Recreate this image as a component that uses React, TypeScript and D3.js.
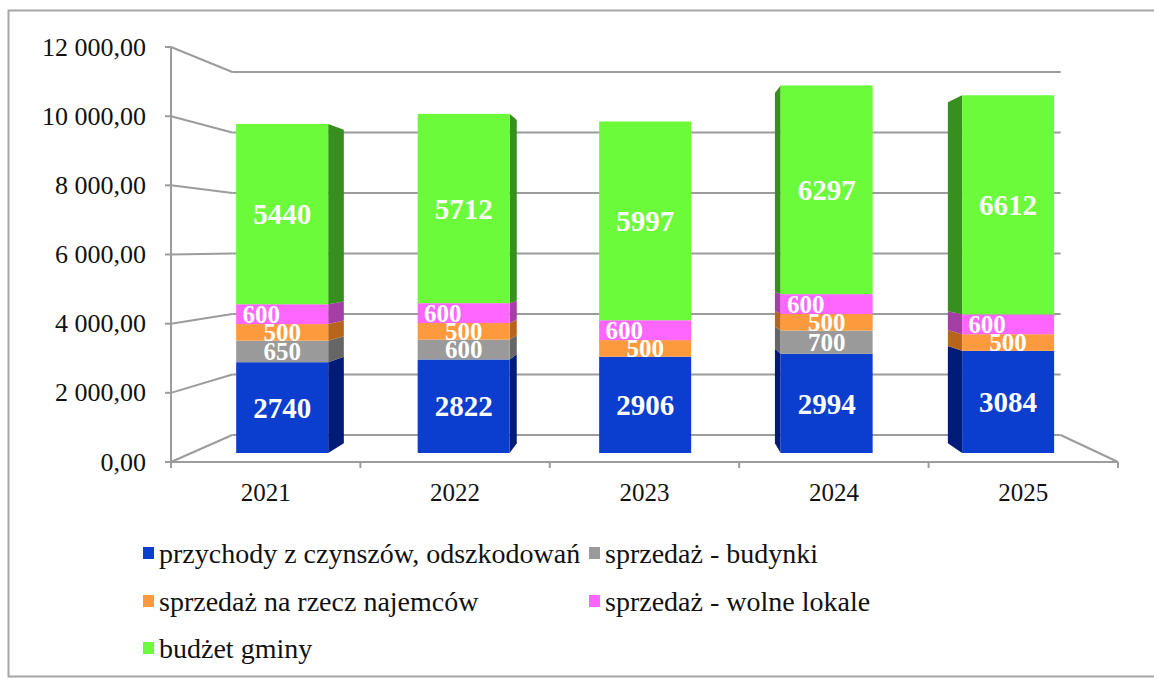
import React from "react";
import * as d3 from "d3";

// values
const years = ["2021", "2022", "2023", "2024", "2025"];
const przychody = [2740, 2822, 2906, 2994, 3084];
const budynki = [650, 600, 0, 700, 0];
const najemcy = [500, 500, 500, 500, 500];
const wolneLokale = [600, 600, 600, 600, 600];
const budzet = [5440, 5712, 5997, 6297, 6612];
const yTicks = [0, 2000, 4000, 6000, 8000, 10000, 12000];

const seriesNames = [
  "przychody z czynszów, odszkodowań",
  "sprzedaż - budynki",
  "sprzedaż na rzecz najemców",
  "sprzedaż - wolne lokale",
  "budżet gminy",
];
const seriesValues = [przychody, budynki, najemcy, wolneLokale, budzet];
const frontColors = ["#0b3ecf", "#9a9a9a", "#fd9a3e", "#ff66ff", "#6cfb3a"];
const sideColors = ["#001c78", "#666666", "#b8651c", "#a53fa5", "#37901e"];

const W = 1154;
const H = 679;
const FONT = "Liberation Serif, DejaVu Serif, Times New Roman, serif";

// simple perspective: front plane -> deeper planes shrink towards a vanishing point
const VPX = 660;
const VPY = 246.5;
const S_BACK = 0.8747; // back wall
const S_BAR_F = 0.9582; // bar front face
const S_BAR_B = 0.913; // bar back face

function proj(x: number, y: number, s: number): [number, number] {
  return [VPX + (x - VPX) * s, VPY + (y - VPY) * s];
}

const x = d3
  .scaleBand()
  .domain(years)
  .range([171, 1118])
  .paddingInner(0.493)
  .paddingOuter(0.2465);
const y = d3.scaleLinear().domain([0, 12000]).range([462, 47]);

const locale = d3.formatLocale({
  decimal: ",",
  thousands: "\u00a0",
  grouping: [3],
  currency: ["", ""],
});
const fmt = locale.format(",.2f");

export default function App() {
  const x0 = x.range()[0];
  const x1 = x.range()[1];
  const step = x.step();

  // stacked data
  const rows = years.map((yr, i) => {
    const r: any = { year: yr };
    seriesNames.forEach((n, k) => (r[n] = seriesValues[k][i]));
    return r;
  });
  const stack = d3.stack().keys(seriesNames)(rows);

  const grid = yTicks.map((v) => {
    const yf = y(v);
    const [bx0, by] = proj(x0, yf, S_BACK);
    const [bx1] = proj(x1, yf, S_BACK);
    return (
      <g key={"g" + v}>
        <line x1={165} y1={yf} x2={x0} y2={yf} />
        <line x1={x0} y1={yf} x2={bx0} y2={by} />
        <line x1={bx0} y1={by} x2={bx1} y2={by} />
      </g>
    );
  });

  const [fbx1, fby] = proj(x1, y(0), S_BACK);

  const bars: any[] = [];
  const labels: any[] = [];
  stack.forEach((layer, k) => {
    layer.forEach((d, i) => {
      const v = d[1] - d[0];
      if (v <= 0) return;
      const left = x(years[i]) as number;
      const right = left + x.bandwidth();
      const yt = y(d[1]);
      const yb = y(d[0]);
      const [fl, ft] = proj(left, yt, S_BAR_F);
      const [fr, fb] = proj(right, yb, S_BAR_F);
      let side = null;
      if (fr < VPX) {
        side = [
          proj(right, yt, S_BAR_F),
          proj(right, yt, S_BAR_B),
          proj(right, yb, S_BAR_B),
          proj(right, yb, S_BAR_F),
        ];
      } else if (fl > VPX) {
        side = [
          proj(left, yt, S_BAR_F),
          proj(left, yt, S_BAR_B),
          proj(left, yb, S_BAR_B),
          proj(left, yb, S_BAR_F),
        ];
      }
      bars.push(
        <g key={`b${k}-${i}`}>
          {side && (
            <polygon
              points={side.map((p) => p.join(",")).join(" ")}
              fill={sideColors[k]}
            />
          )}
          <rect
            x={fl}
            y={ft}
            width={fr - fl}
            height={fb - ft}
            fill={frontColors[k]}
          />
        </g>
      );
      const big = k === 0 || k === 4;
      labels.push(
        <text
          key={`l${k}-${i}`}
          x={(fl + fr) / 2 + (k === 3 ? -21 : 0)}
          y={(ft + fb) / 2}
          dy="0.35em"
          textAnchor="middle"
          fill="#ffffff"
          fontWeight="bold"
          style={{ fontSize: big ? 29 : 25 }}
        >
          {v}
        </text>
      );
    });
  });

  const legendPos = [
    [143, 563],
    [589, 563],
    [143, 611],
    [589, 611],
    [143, 658],
  ];

  return (
    <svg
      width={W}
      height={H}
      style={{
        position: "absolute",
        left: 0,
        top: 0,
        background: "#fff",
        fontFamily: FONT,
      }}
    >
      <rect
        x={8.5}
        y={10.5}
        width={W}
        height={666}
        fill="#ffffff"
        stroke="#a6a6a6"
        strokeWidth={2}
      />
      <g stroke="#9c9c9c" strokeWidth={2} fill="none">
        {grid}
        <line x1={x0} y1={y(0)} x2={x1} y2={y(0)} />
        <line x1={x1} y1={y(0)} x2={fbx1} y2={fby} />
        <line x1={x0} y1={y(12000)} x2={x0} y2={y(0)} />
        {d3.range(years.length + 1).map((j) => (
          <line
            key={"t" + j}
            x1={x0 + j * step}
            y1={y(0)}
            x2={x0 + j * step}
            y2={y(0) + 6}
          />
        ))}
      </g>
      {bars}
      {labels}
      <g style={{ fontSize: 26 }} fill="#111">
        {yTicks.map((v) => (
          <text key={"y" + v} x={146} y={y(v)} dy="0.33em" textAnchor="end">
            {fmt(v)}
          </text>
        ))}
      </g>
      <g style={{ fontSize: 25 }} fill="#111">
        {years.map((yr) => (
          <text
            key={"x" + yr}
            x={(x(yr) as number) + x.bandwidth() / 2}
            y={501}
            textAnchor="middle"
          >
            {yr}
          </text>
        ))}
      </g>
      <g style={{ fontSize: 28 }} fill="#111">
        {seriesNames.map((n, k) => (
          <g key={"lg" + k}>
            <rect
              x={legendPos[k][0]}
              y={legendPos[k][1] - 16}
              width={11}
              height={12}
              fill={frontColors[k]}
            />
            <text x={legendPos[k][0] + 16} y={legendPos[k][1]}>
              {n}
            </text>
          </g>
        ))}
      </g>
    </svg>
  );
}
